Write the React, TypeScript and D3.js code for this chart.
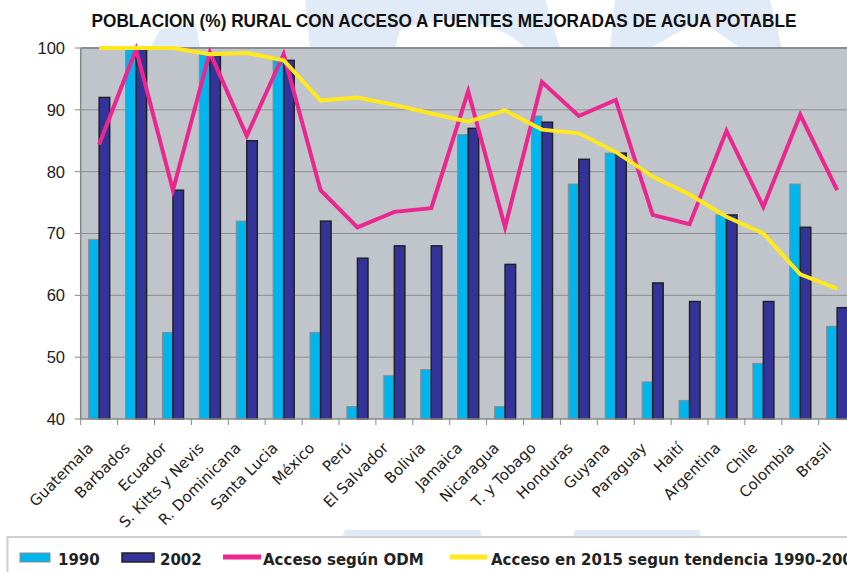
import React from "react";
import * as d3 from "d3";

const categories = [
  "Guatemala", "Barbados", "Ecuador", "S. Kitts y Nevis", "R. Dominicana",
  "Santa Lucia", "México", "Perú", "El Salvador", "Bolivia", "Jamaica",
  "Nicaragua", "T. y Tobago", "Honduras", "Guyana", "Paraguay", "Haití",
  "Argentina", "Chile", "Colombia", "Brasil",
];
const values1990 = [69, 100, 54, 99, 72, 98, 54, 42, 47, 48, 86, 42, 89, 78, 83, 46, 43, 73, 49, 78, 55];
const values2002 = [92, 100, 77, 99, 85, 98, 72, 66, 68, 68, 87, 65, 88, 82, 83, 62, 59, 73, 59, 71, 58];
const accesoODM = [84.4, 99.8, 77, 99.3, 85.8, 99, 77, 71, 73.5, 74.1, 93, 71, 94.5, 89, 91.6, 73, 71.5, 86.6, 74.3, 89.2, 77];
const tendencia2015 = [100, 100, 100, 99, 99.2, 98, 91.5, 92, 90.8, 89.4, 88.1, 89.9, 86.8, 86.2, 83.2, 79.2, 76.3, 72.7, 70, 63.4, 61.1];
const yTicks = [40, 50, 60, 70, 80, 90, 100];
const legendLabels = ["1990", "2002", "Acceso según ODM", "Acceso en 2015 segun tendencia 1990-2002"];
const title = "POBLACION (%) RURAL CON ACCESO A FUENTES MEJORADAS DE AGUA POTABLE";

const W = 847;
const H = 572;
const plotLeft = 80.7;
const plotTop = 48;
const plotBottom = 419;
const step = 36.9;
const plotRight = plotLeft + step * categories.length;

const C1990 = "#00B4EE";
const C2002 = "#333399";
const CODM = "#EC268F";
const CTEND = "#FFE91E";

export default function App() {
  const x = d3.scaleBand<string>().domain(categories).range([plotLeft, plotRight]).paddingInner(0).paddingOuter(0);
  const y = d3.scaleLinear().domain([40, 100]).range([plotBottom, plotTop]);
  const bw = x.bandwidth() / 3.5;
  const off = bw * 0.75;
  const cx = (c: string) => (x(c) as number) + x.bandwidth() / 2;

  const line = d3.line<number>()
    .x((_, i) => cx(categories[i]))
    .y((d) => y(d));

  const labelFont = "'DejaVu Sans', Verdana, sans-serif";

  return (
    <svg width={W} height={H} style={{ position: "absolute", left: 0, top: 0, background: "#fff" }}
      xmlns="http://www.w3.org/2000/svg">
      {/* faint watermark shapes */}
      <g fill="#DCE7F6" opacity={0.85}>
        <path d="M150,48 L160,30 L195,22 L200,48 Z" />
        <path d="M305,0 L545,0 L560,48 L525,48 C500,20 440,12 400,30 L395,48 L310,48 Z" />
        <path d="M615,0 L770,0 L782,48 L740,48 L700,20 L650,48 L610,48 Z" />
        <path d="M330,572 L345,530 L480,530 L490,572 Z" />
        <path d="M560,572 L575,530 L700,530 L705,572 Z" />
      </g>

      {/* title */}
      <text x={444} y={27} textAnchor="middle" fontFamily="'Liberation Sans Narrow', 'Arial Narrow', 'Liberation Sans', Arial, sans-serif"
        fontWeight="bold" fontSize={19} fill="#111" textLength={705} lengthAdjust="spacingAndGlyphs">
        {title}
      </text>

      {/* plot background */}
      <rect x={plotLeft} y={plotTop} width={plotRight - plotLeft} height={plotBottom - plotTop} fill="#C0C4CB" />

      {/* gridlines */}
      {yTicks.filter((t) => t !== 40 && t !== 100).map((t) => (
        <line key={t} x1={plotLeft} x2={plotRight} y1={y(t)} y2={y(t)} stroke="#8E8E8E" strokeWidth={1} />
      ))}
      <line x1={plotLeft} x2={plotRight} y1={y(100)} y2={y(100)} stroke="#8A8E94" strokeWidth={2} />

      {/* bars */}
      {categories.map((c, i) => (
        <g key={c}>
          <rect x={(x(c) as number) + off} y={y(values1990[i])} width={bw} height={plotBottom - y(values1990[i])}
            fill={C1990} stroke="#8C8C8C" strokeWidth={1} />
          <rect x={(x(c) as number) + off + bw} y={y(values2002[i])} width={bw} height={plotBottom - y(values2002[i])}
            fill={C2002} stroke="#222" strokeWidth={1.5} />
        </g>
      ))}

      {/* lines */}
      <path d={line(accesoODM) || ""} fill="none" stroke={CODM} strokeWidth={4} strokeLinejoin="miter" strokeMiterlimit={10} />
      <path d={line(tendencia2015) || ""} fill="none" stroke={CTEND} strokeWidth={4} strokeLinejoin="miter" strokeMiterlimit={10} />

      {/* axes */}
      <line x1={plotLeft} x2={plotLeft} y1={plotTop} y2={plotBottom} stroke="#888" strokeWidth={1.5} />
      <line x1={plotLeft} x2={plotRight} y1={plotBottom} y2={plotBottom} stroke="#888" strokeWidth={1.5} />
      {yTicks.map((t) => (
        <g key={t}>
          <line x1={plotLeft - 6} x2={plotLeft} y1={y(t)} y2={y(t)} stroke="#888" strokeWidth={1} />
          <text x={65} y={y(t)} dy="0.36em" textAnchor="end" fontFamily="'Liberation Sans', Arial, sans-serif" fontSize={16.5} fill="#222">
            {t}
          </text>
        </g>
      ))}
      {d3.range(categories.length + 1).map((i) => (
        <line key={i} x1={plotLeft + i * step} x2={plotLeft + i * step} y1={plotBottom} y2={plotBottom + 6} stroke="#888" strokeWidth={1} />
      ))}
      {categories.map((c) => (
        <text key={c} transform={`translate(${cx(c) - 5},${449}) rotate(-45)`} textAnchor="end"
          fontFamily={labelFont} fontSize={15} fill="#222">
          {c}
        </text>
      ))}

      {/* legend */}
      <rect x={7.5} y={537} width={900} height={60} fill="#fff" stroke="#CFCFCF" strokeWidth={2} />
      <rect x={20} y={553} width={30} height={9} fill={C1990} stroke="#8C8C8C" strokeWidth={1} />
      <text x={58} y={565} fontFamily={labelFont} fontWeight="bold" fontSize={15} fill="#222">{legendLabels[0]}</text>
      <rect x={122} y={553} width={32} height={9} fill={C2002} stroke="#222" strokeWidth={1.5} />
      <text x={160} y={565} fontFamily={labelFont} fontWeight="bold" fontSize={15} fill="#222">{legendLabels[1]}</text>
      <line x1={223} x2={261} y1={557} y2={557} stroke={CODM} strokeWidth={5} />
      <text x={263} y={565} fontFamily={labelFont} fontWeight="bold" fontSize={15} fill="#222">{legendLabels[2]}</text>
      <line x1={450} x2={487} y1={557} y2={557} stroke={CTEND} strokeWidth={5} />
      <text x={491} y={565} fontFamily={labelFont} fontWeight="bold" fontSize={15} fill="#222">{legendLabels[3]}</text>
    </svg>
  );
}
